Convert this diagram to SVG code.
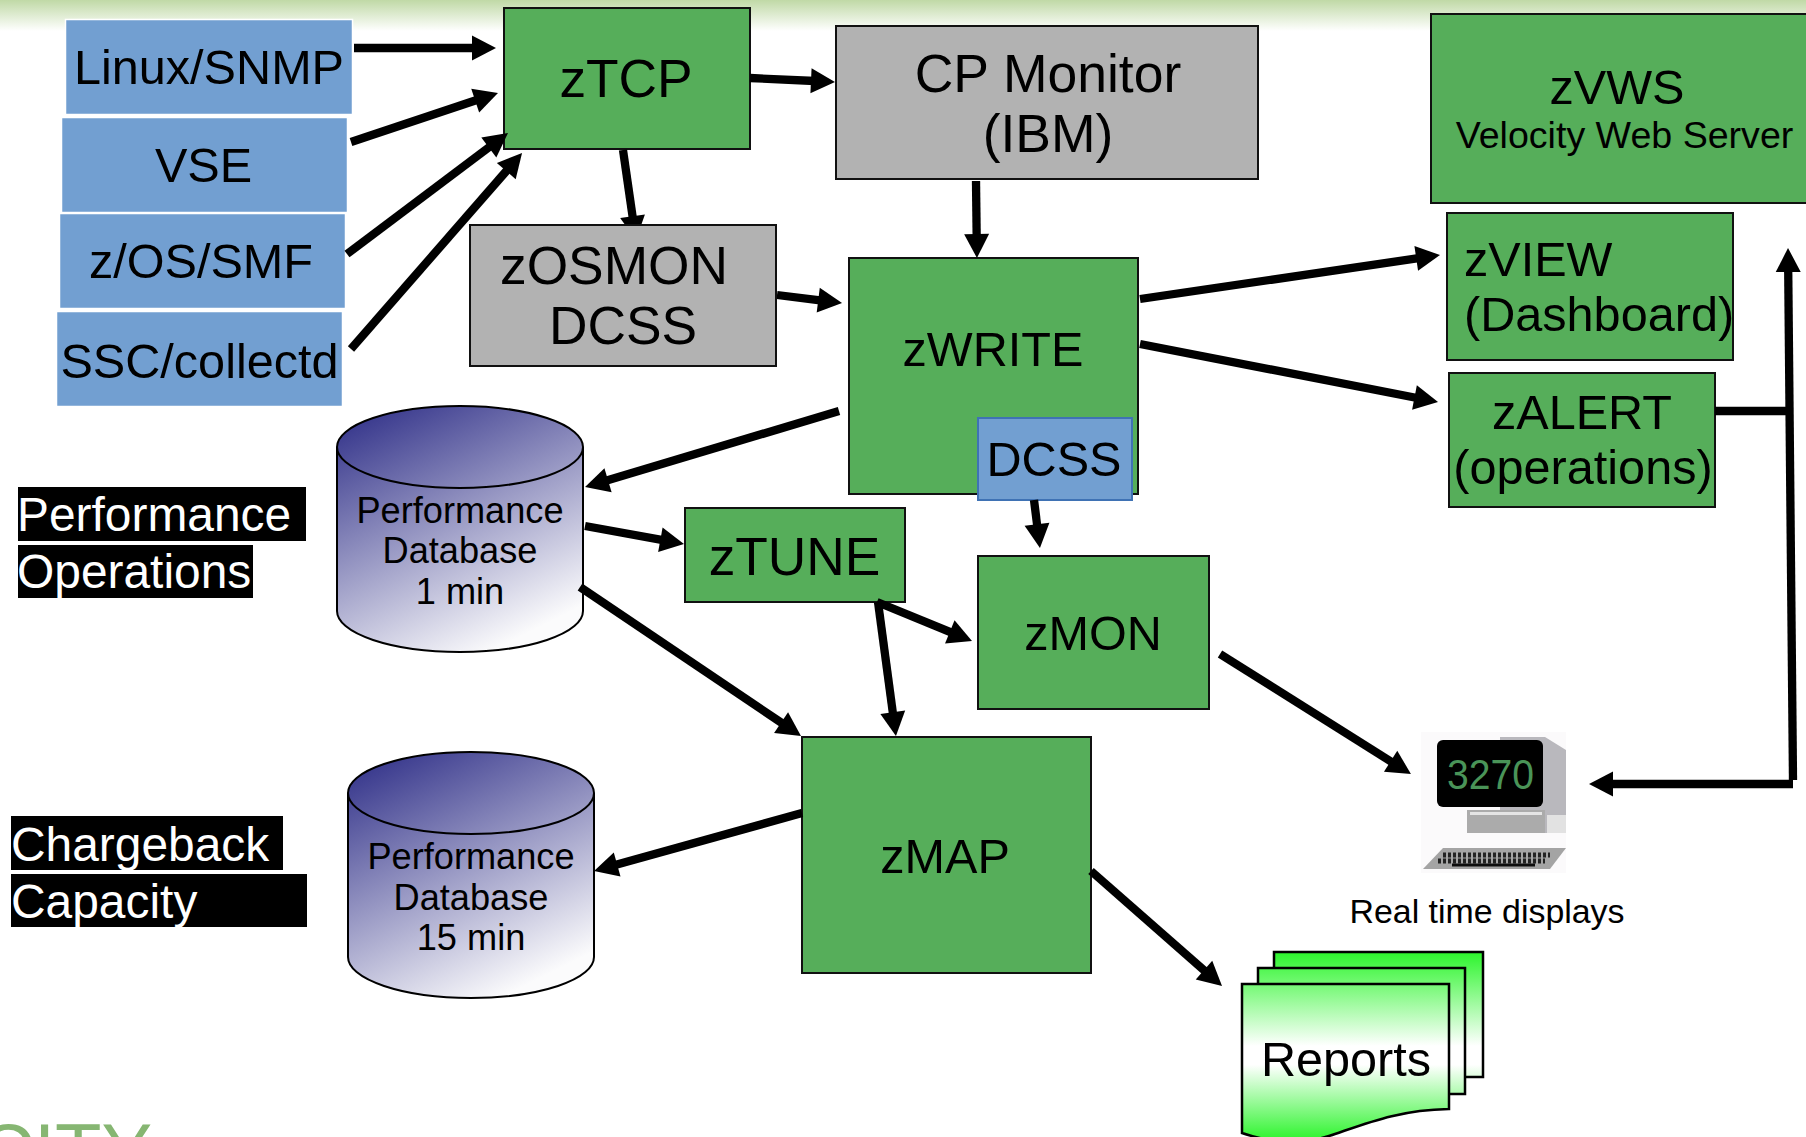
<svg xmlns="http://www.w3.org/2000/svg" width="1806" height="1137" viewBox="0 0 1806 1137">
<style>
text{font-family:"Liberation Sans",Arial,sans-serif;fill:#000}
.m{text-anchor:middle}
.s48{font-size:48.600px}.s52{font-size:53.300px}.s37{font-size:36.200px}
.g{fill:#56ae5a;stroke:#111;stroke-width:2}
.gr{fill:#b2b2b2;stroke:#111;stroke-width:2}
.b{fill:#729fd1;stroke:#fff;stroke-width:1.500}
.k{fill:#000}
.w{fill:#fff;font-size:47.900px}
.cy{stroke:#000;stroke-width:2}
.doc{fill:url(#docG);stroke:#000;stroke-width:2.500}
#connectors line{stroke:#000;stroke-width:8.300;fill:none}
#connectors .a{marker-end:url(#ah)}
</style>
<defs>
<marker id="ah" markerUnits="userSpaceOnUse" markerWidth="28" markerHeight="28" refX="5" refY="14" orient="auto"><path d="M1,1.500 L25,14 L1,26.500 Z" fill="#000"/></marker>
<linearGradient id="hdr" x1="0" y1="0" x2="0" y2="1"><stop offset="0" stop-color="#c0d9a6"/><stop offset="1" stop-color="#fff"/></linearGradient>
<linearGradient id="cyl" x1="0.12" y1="0" x2="0.62" y2="1"><stop offset="0" stop-color="#33338a"/><stop offset="1" stop-color="#fbfbfc"/></linearGradient>
<linearGradient id="docG" gradientUnits="userSpaceOnUse" x1="0" y1="952" x2="0" y2="1140"><stop offset="0" stop-color="#2cf52c"/><stop offset="0.5" stop-color="#fff"/><stop offset="0.6" stop-color="#fff"/><stop offset="1" stop-color="#2ef42e"/></linearGradient>
<filter id="soft" x="-5%" y="-5%" width="110%" height="110%"><feGaussianBlur stdDeviation="0.7"/></filter>
</defs>
<rect width="1806" height="1137" fill="#fff"/>
<rect id="header" width="1806" height="31" fill="url(#hdr)"/>

<g id="linux"><rect class="b" x="65.500" y="19.500" width="287" height="95"/><text class="m s48" x="209" y="84">Linux/SNMP</text></g>
<g id="vse"><rect class="b" x="61.500" y="117.500" width="286" height="95"/><text class="m s48" x="203.500" y="182">VSE</text></g>
<g id="zos"><rect class="b" x="59.500" y="213.500" width="286" height="95"/><text class="m s48" x="201" y="278">z/OS/SMF</text></g>
<g id="ssc"><rect class="b" x="56.500" y="311.500" width="286" height="95"/><text class="m s48" x="199.500" y="378">SSC/collectd</text></g>
<g id="ztcp"><rect class="g" x="504" y="8" width="246" height="141"/><text class="m s52" x="626" y="97">zTCP</text></g>
<g id="cpmon"><rect class="gr" x="836" y="26" width="422" height="153"/><text class="m" style="font-size:53.500px" x="1048" y="92">CP Monitor</text><text class="m" style="font-size:53.500px" x="1048" y="151.500">(IBM)</text></g>
<g id="zvws"><rect class="g" x="1431" y="14" width="385" height="189"/><text class="m s48" x="1617" y="104">zVWS</text><text class="m" style="font-size:37.600px" x="1624.500" y="148">Velocity Web Server</text></g>
<g id="zview"><rect class="g" x="1447" y="213" width="286" height="147"/><text class="s48" x="1464" y="276">zVIEW</text><text class="s48" x="1464" y="331">(Dashboard)</text></g>
<g id="zalert"><rect class="g" x="1449" y="373" width="266" height="134"/><text class="m s48" x="1582" y="429">zALERT</text><text class="m s48" x="1583" y="484">(operations)</text></g>
<g id="zwrite"><rect class="g" x="849" y="258" width="289" height="236"/><text class="m s48" x="993" y="366">zWRITE</text></g>
<g id="dcss"><rect x="978" y="418" width="154" height="82" fill="#729fd1" stroke="#3f72b4" stroke-width="2"/><text class="m s48" x="1054" y="476">DCSS</text></g>
<g id="ztune"><rect class="g" x="685" y="508" width="220" height="94"/><text class="m s52" x="794.500" y="575">zTUNE</text></g>
<g id="zmon"><rect class="g" x="978" y="556" width="231" height="153"/><text class="m s48" x="1093" y="650">zMON</text></g>
<g id="zmap"><rect class="g" x="802" y="737" width="289" height="236"/><text class="m s48" x="945" y="873">zMAP</text></g>

<g id="db1">
<path class="cy" fill="url(#cyl)" d="M337,447 A123,41 0 0 1 583,447 V611 A123,41 0 0 1 337,611 Z"/>
<path class="cy" fill="none" d="M337,447 A123,41 0 0 0 583,447"/>
<text class="m s37" x="460" y="523">Performance</text><text class="m s37" x="460" y="563">Database</text><text class="m s37" x="460" y="603.500">1 min</text>
</g>
<g id="db2">
<path class="cy" fill="url(#cyl)" d="M348,793 A123,41 0 0 1 594,793 V957 A123,41 0 0 1 348,957 Z"/>
<path class="cy" fill="none" d="M348,793 A123,41 0 0 0 594,793"/>
<text class="m s37" x="471" y="869">Performance</text><text class="m s37" x="471" y="910">Database</text><text class="m s37" x="471" y="950">15 min</text>
</g>

<g id="connectors">
<line class="a" x1="354" y1="48" x2="476" y2="48"/>
<line class="a" x1="351" y1="142" x2="479" y2="99.300"/>
<line class="a" x1="347" y1="254" x2="492" y2="145"/>
<line class="a" x1="351" y1="349" x2="508.900" y2="168.100"/>
<line class="a" x1="623" y1="150" x2="633.100" y2="220.200"/>
<line class="a" x1="750" y1="78" x2="815" y2="81"/>
<line class="a" x1="976" y1="181" x2="976.700" y2="238"/>
<line class="a" x1="777" y1="295" x2="822.200" y2="300.600"/>
<line class="a" x1="1140" y1="299" x2="1420.200" y2="257.900"/>
<line class="a" x1="1140" y1="344" x2="1418.400" y2="398.200"/>
<line x1="1715" y1="411" x2="1790" y2="411"/>
<line class="a" x1="1793" y1="780" x2="1788.200" y2="268"/>
<line class="a" x1="1793" y1="784" x2="1609" y2="784"/>
<line class="a" x1="839" y1="411" x2="604.200" y2="481.300"/>
<line class="a" x1="585" y1="526" x2="664.300" y2="540.400"/>
<line class="a" x1="580" y1="587" x2="784.400" y2="724.800"/>
<line class="a" x1="877" y1="602" x2="953.500" y2="633.400"/>
<line class="a" x1="878" y1="602" x2="893.300" y2="716.200"/>
<line class="a" x1="1034" y1="500" x2="1037.500" y2="528.200"/>
<line class="a" x1="802" y1="813" x2="613.300" y2="865.600"/>
<line class="a" x1="1091" y1="871" x2="1207" y2="972.800"/>
<line class="a" x1="1220" y1="654" x2="1394" y2="763.400"/>
</g>

<g id="zosmon"><rect class="gr" x="470" y="225" width="306" height="141"/><text class="m s52" x="614" y="284">zOSMON</text><text class="m s52" x="623" y="344">DCSS</text></g>

<g id="lbl-perf"><rect class="k" x="18" y="487" width="288" height="54"/><text class="w" x="17" y="531">Performance</text></g>
<g id="lbl-ops"><rect class="k" x="18" y="545" width="235" height="53"/><text class="w" x="17" y="588">Operations</text></g>
<g id="lbl-charge"><rect class="k" x="11" y="816" width="272" height="54"/><text class="w" x="11" y="861">Chargeback</text></g>
<g id="lbl-cap"><rect class="k" x="11" y="874" width="296" height="53"/><text class="w" x="11" y="918">Capacity</text></g>

<g id="terminal">
<g filter="url(#soft)">
<rect x="1421" y="732" width="145" height="141" fill="#fbfafb"/>
<path d="M1500,737 L1545,737 L1566,750 V833 H1500 Z" fill="#b9b8bd"/>
<rect x="1547" y="815" width="19" height="18" fill="#e2e2e2"/>
<rect x="1467" y="810" width="78" height="23" fill="#ababab"/>
<rect x="1470" y="812" width="72" height="3" fill="#e4e4e4"/>
<rect x="1437" y="740" width="106" height="67" rx="6" fill="#000"/>
<path d="M1423,869 L1443,848 H1566 L1550,869 Z" fill="#a4a4a4"/>
<path d="M1443,855 H1550 M1438,861 H1545" stroke="#222" stroke-width="5" stroke-dasharray="3 2" fill="none"/>
<path d="M1452,865 H1535" stroke="#111" stroke-width="3" fill="none"/>
</g>
<text x="1447" y="789" style="font-size:42px;fill:#4a9458" textLength="87" lengthAdjust="spacingAndGlyphs">3270</text>
</g>
<text id="rtd" class="m" style="font-size:33.900px" x="1487" y="923">Real time displays</text>

<g id="reports">
<rect class="doc" x="1274" y="952" width="209" height="125"/>
<rect class="doc" x="1258" y="968" width="207" height="126"/>
<path class="doc" d="M1242,984 H1449 V1109 C1400,1110 1370,1122 1335,1134 C1310,1143 1280,1146 1242,1133 Z"/>
<text class="m s48" x="1346" y="1076">Reports</text>
</g>

<text id="logo" x="-21" y="1177" style="font-size:76px;fill:#86b672">CITY</text>
</svg>
